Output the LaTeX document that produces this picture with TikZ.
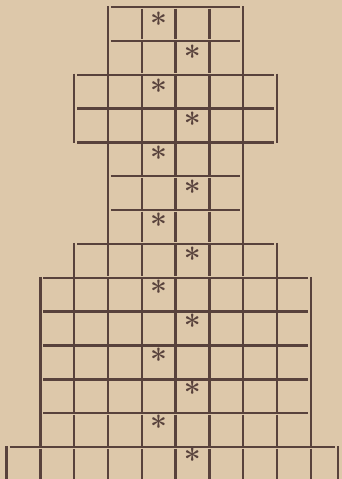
\documentclass[tikz,border=0pt]{standalone}
\definecolor{paper}{RGB}{221,200,170}
\definecolor{ink}{RGB}{88,66,60}
\tikzset{
  rule/.style={ink, line width=2.4pt},
  starmark/.style={ink, inner sep=0pt, font=\fontsize{30}{30}\bfseries\selectfont}
}

\begin{document}
\begin{tikzpicture}[x=1pt,y=-1pt]
  % Paper
  \useasboundingbox (0,0) rectangle (342,479);
  \fill[paper] (0,0) rectangle (342,479);
  \clip (0,0) rectangle (342,479);
  % Vertical rules, row by row: row/first column/last column
  \foreach \r/\a/\b in {0/3/7,1/3/7,2/2/8,3/2/8,4/3/7,5/3/7,6/3/7,7/2/8,
                        8/1/9,9/1/9,10/1/9,11/1/9,12/1/9,13/0/10}
      \foreach \c in {\a,...,\b} {
          \pgfmathsetmacro{\gap}{(\c==\a || \c==\b) ? -1 : 1.5}
          \draw[rule] ({min(6.5+33.8*\c,338)},{7+33.85*\r+\gap})
              -- ({min(6.5+33.8*\c,338)},{7+33.85*(\r+1)-\gap});
      }
  % Horizontal rules: line/first column/last column
  \foreach \k/\a/\b in {0/3/7,1/3/7,2/2/8,3/2/8,4/2/8,5/3/7,6/3/7,7/2/8,
                        8/1/9,9/1/9,10/1/9,11/1/9,12/1/9,13/0/10,14/0/10}
      \draw[rule] ({6.5+33.8*\a+3},{7+33.85*\k})
          -- ({min(6.5+33.8*\b,338)-3},{7+33.85*\k});
  % Asterisks, zigzag down the middle
  \foreach \r in {0,...,13} {
      \pgfmathtruncatemacro{\c}{isodd(\r) ? 5 : 4}
      \node[starmark] (s\r) at ({6.5+33.8*(\c+0.5)},{6+33.6*(\r+0.5)}) {*};
  }
\end{tikzpicture}
\end{document}
